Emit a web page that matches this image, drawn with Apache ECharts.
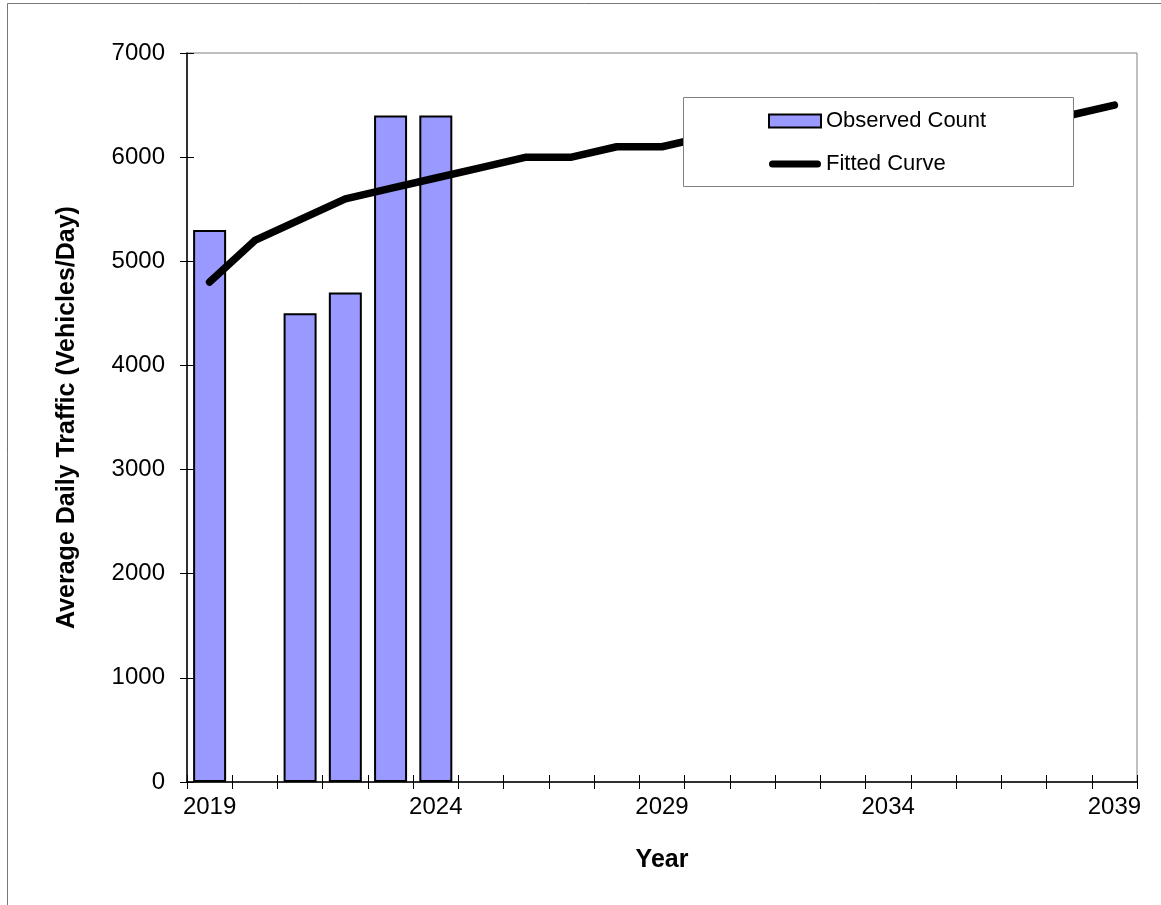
<!DOCTYPE html>
<html>
<head>
<meta charset="utf-8">
<script src="https://cdn.jsdelivr.net/npm/echarts@6/dist/echarts.min.js"></script>
<style>
html,body{margin:0;padding:0;background:#fff;}
#c{width:1161px;height:905px;}
</style>
</head>
<body>
<div id="c"></div>
<script>
var years = ['2019','2020','2021','2022','2023','2024','2025','2026','2027','2028','2029','2030','2031','2032','2033','2034','2035','2036','2037','2038','2039'];
var observedCount = [5300, null, 4500, 4700, 6400, 6400, null, null, null, null, null, null, null, null, null, null, null, null, null, null, null];
var fittedCurve = [4800, 5200, 5400, 5600, 5700, 5800, 5900, 6000, 6000, 6100, 6100, 6200, 6200, 6200, 6300, 6300, 6300, 6400, 6400, 6400, 6500];
var yTicks = {min: 0, max: 7000, interval: 1000};

var FONT = '"Liberation Sans", Arial, sans-serif';
var chart = echarts.init(document.getElementById('c'), null, {renderer: 'canvas'});
chart.setOption({
  animation: false,
  backgroundColor: '#ffffff',
  textStyle: {fontFamily: FONT, color: '#000'},
  grid: {left: 187, top: 53, right: 24, bottom: 123, show: true, borderColor: '#808080', borderWidth: 1, backgroundColor: 'transparent'},
  graphic: [
    {type: 'rect', shape: {x: 7.5, y: 3.5, width: 1300, height: 1000}, style: {fill: 'none', stroke: '#777', lineWidth: 1}, z: 0, silent: true},
    {type: 'rect', shape: {x: 683.5, y: 97.5, width: 390, height: 89}, style: {fill: '#fff', stroke: '#808080', lineWidth: 1}, z: 3, silent: true}
  ],
  legend: {
    orient: 'vertical',
    left: 768, top: 110,
    padding: 0,
    itemWidth: 52, itemHeight: 13, itemGap: 21,
    z: 10,
    symbolKeepAspect: true,
    textStyle: {fontFamily: FONT, fontSize: 22, color: '#000'},
    data: [
      {name: 'Observed Count', icon: 'rect', itemStyle: {color: '#9999ff', borderColor: '#000', borderWidth: 2}},
      {name: 'Fitted Curve', icon: 'path://M3.5,0 L48.5,0 A3.5,3.5 0 0 1 48.5,7 L3.5,7 A3.5,3.5 0 0 1 3.5,0 Z', itemStyle: {color: '#000', borderWidth: 0}}
    ]
  },
  xAxis: [
    {
      type: 'category', data: years, boundaryGap: true,
      name: 'Year', nameLocation: 'middle', nameGap: 66,
      nameTextStyle: {fontFamily: FONT, fontSize: 25, fontWeight: 'bold', color: '#000'},
      axisLine: {show: true, lineStyle: {color: '#000', width: 1.5}},
      axisTick: {show: true, inside: false, length: 7, alignWithLabel: false, interval: 0, lineStyle: {color: '#000'}},
      axisLabel: {show: true, interval: 4, margin: 13, fontFamily: FONT, fontSize: 24, color: '#000'},
      splitLine: {show: false}
    },
    {
      type: 'category', data: years, boundaryGap: true, position: 'bottom',
      axisLine: {show: false},
      axisTick: {show: true, inside: true, length: 7, alignWithLabel: false, interval: 0, lineStyle: {color: '#000'}},
      axisLabel: {show: false},
      splitLine: {show: false}
    }
  ],
  yAxis: [
    {
      type: 'value', min: yTicks.min, max: yTicks.max, interval: yTicks.interval,
      name: 'Average Daily Traffic (Vehicles/Day)', nameLocation: 'middle', nameGap: 107,
      nameTextStyle: {fontFamily: FONT, fontSize: 25, fontWeight: 'bold', color: '#000'},
      axisLine: {show: true, lineStyle: {color: '#000', width: 1.5}},
      axisTick: {show: true, inside: false, length: 7, lineStyle: {color: '#000'}},
      axisLabel: {margin: 22, fontFamily: FONT, fontSize: 24, color: '#000', formatter: function (v) { return String(v); }},
      splitLine: {show: false}
    },
    {
      type: 'value', min: yTicks.min, max: yTicks.max, interval: yTicks.interval, position: 'left',
      axisLine: {show: false},
      axisTick: {show: true, inside: true, length: 7, lineStyle: {color: '#000'}},
      axisLabel: {show: false},
      splitLine: {show: false}
    }
  ],
  series: [
    {
      name: 'Observed Count', type: 'bar', data: observedCount, barWidth: 33,
      xAxisIndex: 0, yAxisIndex: 0, z: 2,
      itemStyle: {color: '#9999ff', borderColor: '#000', borderWidth: 2}
    },
    {
      name: 'Fitted Curve', type: 'line', data: fittedCurve, symbol: 'none', showSymbol: false,
      xAxisIndex: 0, yAxisIndex: 0, z: 2,
      lineStyle: {color: '#000', width: 7.5, cap: 'round', join: 'round'},
      itemStyle: {color: '#000'}
    }
  ]
});
</script>
</body>
</html>
